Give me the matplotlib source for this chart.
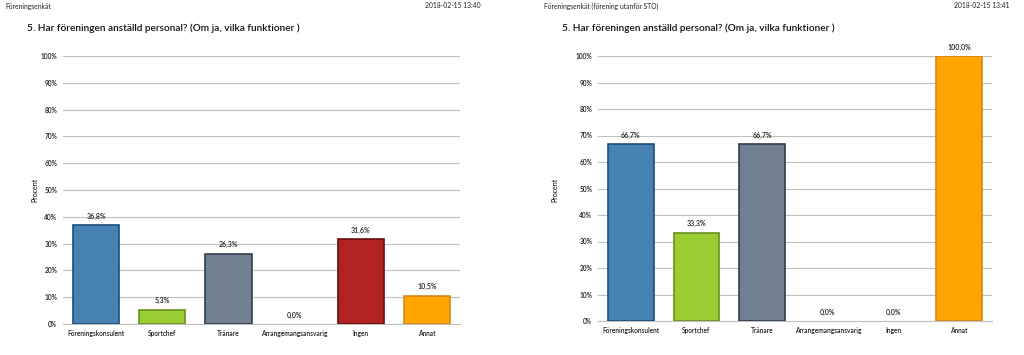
import matplotlib
matplotlib.use("Agg")
import matplotlib.pyplot as plt
import numpy as np

plt.rcParams['font.family'] = ['Lato', 'DejaVu Sans']

categories = ["Föreningskonsulent", "Sportchef", "Tränare", "Arrangemangsansvarig", "Ingen", "Annat"]
values_left = [36.8, 5.3, 26.3, 0.0, 31.6, 10.5]
values_right = [66.7, 33.3, 66.7, 0.0, 0.0, 100.0]
yticks = [0, 10, 20, 30, 40, 50, 60, 70, 80, 90, 100]
colors = ["#4682B4", "#9ACD32", "#708090", "#6B8E23", "#B22222", "#FFA500"]
edges = ["#1F4E79", "#6B8E23", "#2F3F4F", "#555555", "#6B0E0E", "#D2891A"]

title = "5. Har föreningen anställd personal? (Om ja, vilka funktioner )"
headers = ["Föreningsenkät", "Föreningsenkät (förening utanför STO)"]
dates = ["2018-02-15 13:40", "2018-02-15 13:41"]

fig = plt.figure(figsize=(10.24, 3.55), dpi=100)

def px(x, y):
    return x / 1024, 1 - y / 355

def panel(rect, values, hdr_x, date_x, title_x, ylab_x, header, date):
    ax = fig.add_axes(rect)
    x = np.arange(len(categories))
    lws = [1.2 if v > 0 else 0 for v in values]
    ax.bar(x, values, width=0.7, color=colors, edgecolor=edges, linewidth=lws, zorder=3)
    for xi, v in zip(x, values):
        ax.text(xi, v + 2, f"{v:.1f}%".replace(".", ","), ha="center", va="bottom",
                fontsize=5, fontweight="semibold", color="#222222", zorder=4)
    ax.set_xlim(-0.5, len(categories) - 0.5)
    ax.set_ylim(0, 100)
    ax.set_yticks(yticks)
    ax.set_yticklabels([f"{t}%" for t in yticks], fontsize=4.8, fontweight="semibold")
    ax.set_xticks(x)
    ax.set_xticklabels(categories, fontsize=4.8, fontweight="semibold")
    ax.tick_params(length=0, pad=4, colors="#222222")
    ax.grid(axis="y", color="#c0c0c0", linewidth=0.8, zorder=0)
    for s in ["left", "right", "top"]:
        ax.spines[s].set_visible(False)
    ax.spines["bottom"].set_color("#c0c0c0")
    ax.spines["bottom"].set_linewidth(0.8)
    fig.text(*px(hdr_x, 6), header, fontsize=4.9, ha="left", va="center", color="#222222")
    fig.text(*px(date_x, 6), date, fontsize=4.9, ha="right", va="center", color="#222222")
    fig.text(*px(title_x, 28), title, fontsize=7.3, fontweight="semibold",
             ha="left", va="center", color="#111111")
    fig.text(*px(ylab_x, 190), "Procent", fontsize=5, rotation=90, ha="center", va="center")
    return ax

l0, t0 = px(63, 56)
r0, b0 = px(460, 324)
panel([l0, b0, r0 - l0, t0 - b0], values_left, 5, 481, 27, 35, headers[0], dates[0])
l1, t1 = px(598, 56)
r1, b1 = px(992, 321)
panel([l1, b1, r1 - l1, t1 - b1], values_right, 544, 1009, 562, 555, headers[1], dates[1])

fig.savefig("out.png", dpi=100, facecolor="white")
